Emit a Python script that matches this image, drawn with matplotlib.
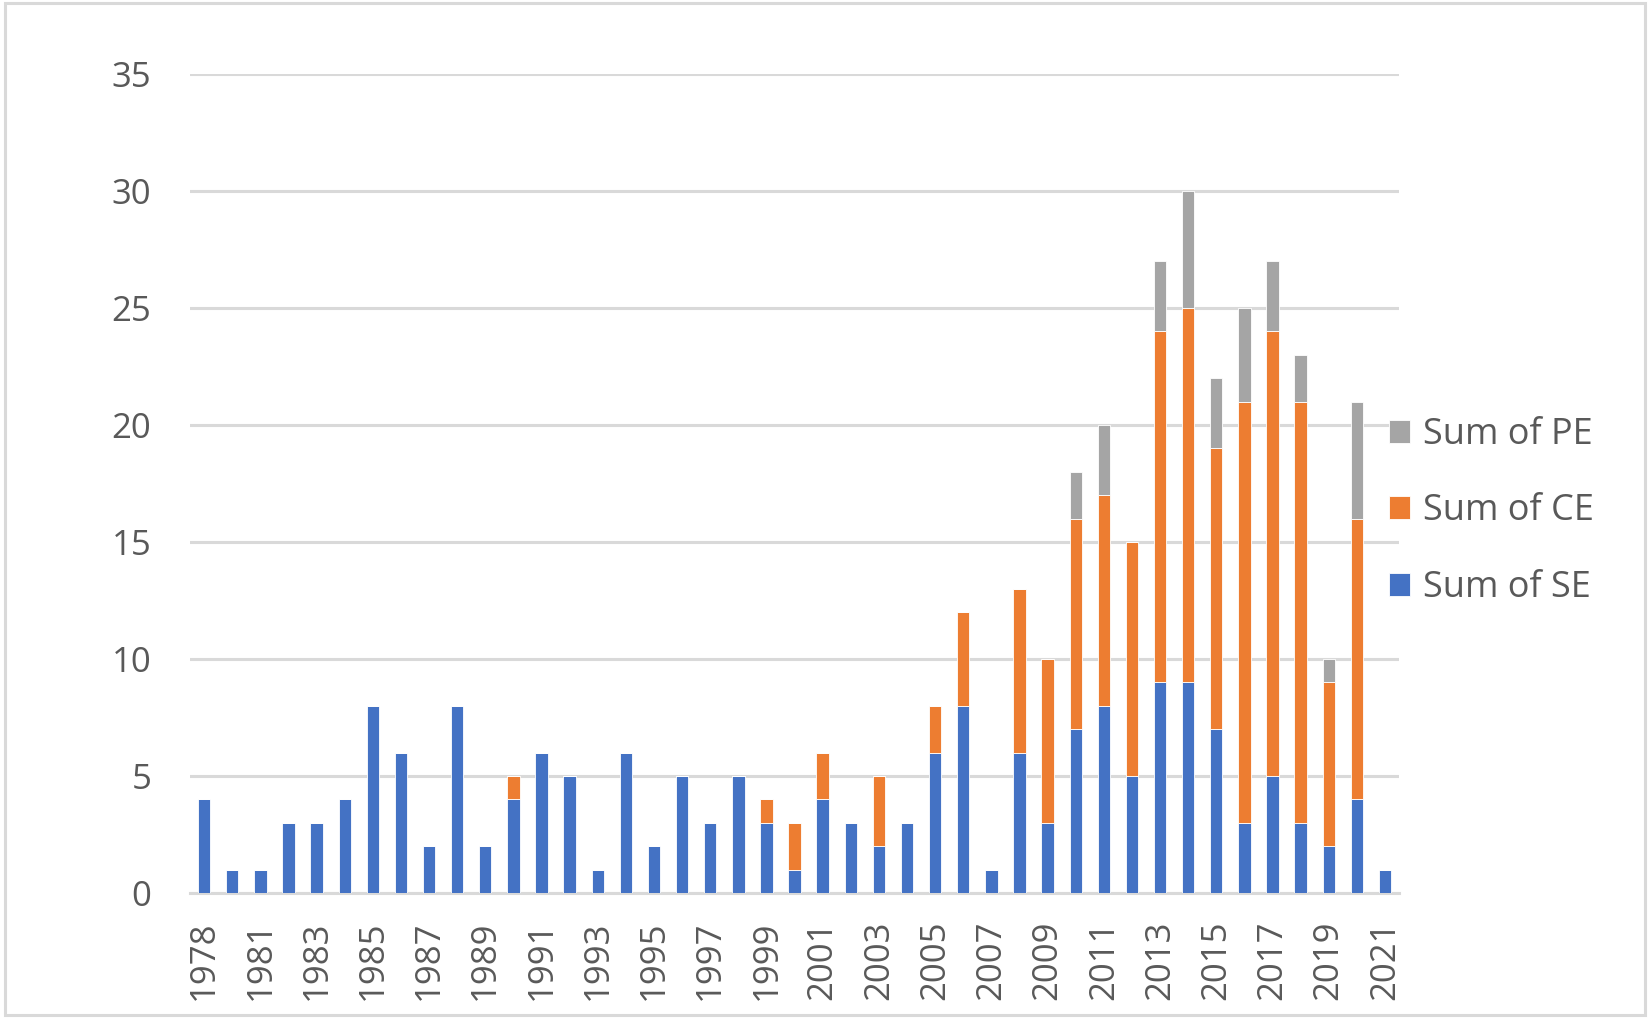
import matplotlib
matplotlib.use("Agg")
import matplotlib.pyplot as plt
from matplotlib.patches import Rectangle
import numpy as np

years = ["1978", "1980", "1981", "1982", "1983", "1984", "1985", "1986", "1987", "1988",
         "1989", "1990", "1991", "1992", "1993", "1994", "1995", "1996", "1997", "1998",
         "1999", "2000", "2001", "2002", "2003", "2004", "2005", "2006", "2007", "2008",
         "2009", "2010", "2011", "2012", "2013", "2014", "2015", "2016", "2017", "2018",
         "2019", "2020", "2021"]
se = [4, 1, 1, 3, 3, 4, 8, 6, 2, 8,
      2, 4, 6, 5, 1, 6, 2, 5, 3, 5,
      3, 1, 4, 3, 2, 3, 6, 8, 1, 6,
      3, 7, 8, 5, 9, 9, 7, 3, 5, 3,
      2, 4, 1]
ce = [0, 0, 0, 0, 0, 0, 0, 0, 0, 0,
      0, 1, 0, 0, 0, 0, 0, 0, 0, 0,
      1, 2, 2, 0, 3, 0, 2, 4, 0, 7,
      7, 9, 9, 10, 15, 16, 12, 18, 19, 18,
      7, 12, 0]
pe = [0, 0, 0, 0, 0, 0, 0, 0, 0, 0,
      0, 0, 0, 0, 0, 0, 0, 0, 0, 0,
      0, 0, 0, 0, 0, 0, 0, 0, 0, 0,
      0, 2, 3, 0, 3, 5, 3, 4, 3, 2,
      1, 5, 0]

BLUE = "#4472C4"
ORANGE = "#ED7D31"
GREY = "#A5A5A5"
TEXT = "#595959"
GRID = "#D9D9D9"

plt.rcParams["font.family"] = ["Open Sans", "DejaVu Sans"]

fig = plt.figure(figsize=(16.5, 10.26), dpi=100)
fig.patches.append(Rectangle((0.003, 0.011), 0.994, 0.986, transform=fig.transFigure,
                             fill=False, edgecolor=GRID, linewidth=2.2))
ax = fig.add_axes([0.1152, 0.1296, 0.7327, 0.7983])

x = np.arange(len(years))
se_a = np.array(se)
ce_a = np.array(ce)
pe_a = np.array(pe)
w = 0.44
kw = dict(width=w, edgecolor="white", linewidth=0.6, zorder=3)
b_se = ax.bar(x, se_a, color=BLUE, label="Sum of SE", **kw)
b_ce = ax.bar(x, ce_a, bottom=se_a, color=ORANGE, label="Sum of CE", **kw)
b_pe = ax.bar(x, pe_a, bottom=se_a + ce_a, color=GREY, label="Sum of PE", **kw)

ax.set_xlim(-0.5, len(years) - 0.5)
ax.set_ylim(0, 35)
ax.set_yticks(range(0, 36, 5))
ax.yaxis.grid(True, color=GRID, linewidth=2.2, zorder=0)
ax.set_axisbelow(True)
for side in ["top", "right", "left"]:
    ax.spines[side].set_visible(False)
ax.spines["bottom"].set_color(GRID)
ax.spines["bottom"].set_linewidth(2.2)

ax.set_xticks(x[::2])
ax.set_xticklabels(years[::2], rotation=90)
ax.tick_params(axis="x", length=0, pad=20, labelsize=25, labelcolor=TEXT)
ax.tick_params(axis="y", length=0, pad=28, labelsize=25, labelcolor=TEXT)

leg = ax.legend(handles=[b_pe, b_ce, b_se], loc="center left", bbox_to_anchor=(0.9915, 0.466),
                frameon=False, fontsize=26, labelcolor=TEXT, handlelength=0.6,
                handleheight=0.6, handletextpad=0.35, labelspacing=1.12, borderpad=0,
                borderaxespad=0)

fig.savefig("out.png", dpi=100)
